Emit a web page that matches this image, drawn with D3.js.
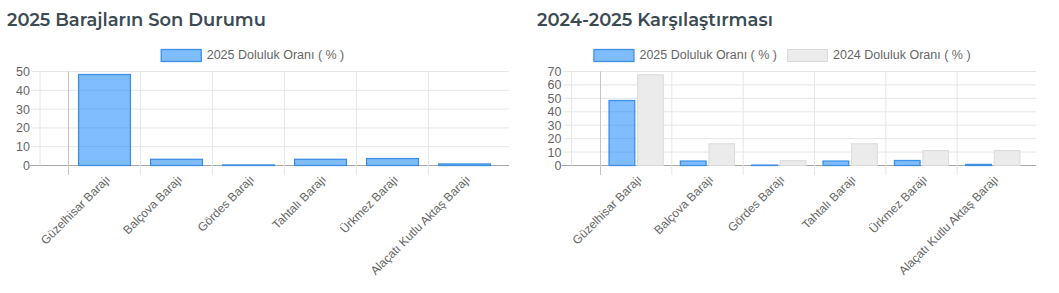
<!DOCTYPE html>
<html><head><meta charset="utf-8">
<script src="https://cdn.jsdelivr.net/npm/d3@7"></script>
<style>
body{margin:0;background:#fff;}
svg{display:block;}
</style></head>
<body>
<svg id="c" width="1059" height="293"></svg>
<script>
const categories = ["Güzelhisar Barajı","Balçova Barajı","Gördes Barajı","Tahtalı Barajı","Ürkmez Barajı","Alaçatı Kutlu Aktaş Barajı"];
const values2025 = [48.4, 3.3, 0.3, 3.3, 3.7, 0.8];
const values2024 = [67.6, 16.2, 3.6, 16.2, 11.1, 11.1];
const seriesNames = ["2025 Doluluk Oranı ( % )", "2024 Doluluk Oranı ( % )"];
const titles = ["2025 Barajların Son Durumu", "2024-2025 Karşılaştırması"];
const leftTicks = [0,10,20,30,40,50];
const rightTicks = [0,10,20,30,40,50,60,70];

const svg = d3.select("#c");
const FONT = "'Liberation Sans', Arial, sans-serif";
const fills = ["rgba(0,123,255,0.5)", "#ebebeb"];
const strokes = ["#3f8fe3", "#dadada"];

function title(txt, x, target){
  const t = svg.append("text").attr("x", x).attr("y", 26)
    .attr("font-family", "Montserrat, 'Open Sans', sans-serif").attr("font-weight", 600)
    .attr("font-size", 19).attr("fill", "#3b4a53").text(txt);
  const w = t.node().getComputedTextLength();
  t.attr("font-size", 19 * target / w);
}
title(titles[0], 7, 259);
title(titles[1], 537, 236);

function chart(opts){
  const {x0, x1, bandStart, bandEnd, ymax, ticks, series, legendCenter} = opts;
  const g = svg.append("g");
  const y = d3.scaleLinear().domain([0, ymax]).range([165.5, 71.5]);
  const x = d3.scaleBand().domain(categories).range([bandStart, bandEnd]).paddingInner(0).paddingOuter(0);

  ticks.forEach(t => {
    g.append("line").attr("x1", t===0 ? x0-10 : x0-8).attr("x2", x1)
      .attr("y1", y(t)).attr("y2", y(t))
      .attr("stroke", t===0 ? "#a8a8a8" : "#e6e6e6").attr("stroke-width", 1);
  });
  g.append("line").attr("x1", x0).attr("x2", x0).attr("y1", y(ymax)).attr("y2", y(0))
    .attr("stroke", "#e6e6e6");
  categories.forEach((c, i) => {
    g.append("line").attr("x1", x(c)).attr("x2", x(c))
      .attr("y1", y(ymax)).attr("y2", 175)
      .attr("stroke", i===0 ? "#c4c4c4" : "#e6e6e6");
  });
  const yAxis = d3.axisLeft(y).tickValues(ticks).tickSize(0).tickPadding(0);
  const ya = g.append("g").attr("transform", `translate(${x0-10},0)`).call(yAxis);
  ya.select(".domain").remove();
  ya.selectAll("text").attr("font-family", FONT).attr("font-size", 12.5).attr("fill", "#666");

  const n = series.length;
  const bw = x.bandwidth();
  const groupW = bw * 0.8;
  const slot = groupW / n;
  series.forEach((vals, si) => {
    g.selectAll(null).data(vals).enter().append("rect")
      .attr("x", (d, i) => x(categories[i]) + bw*0.1 + slot*si + slot*0.05)
      .attr("width", slot*0.9)
      .attr("y", d => y(d))
      .attr("height", d => y(0) - y(d))
      .attr("fill", fills[si]).attr("stroke", strokes[si]).attr("stroke-width", si===0 ? 1.3 : 1);
  });

  categories.forEach(c => {
    g.append("text")
      .attr("transform", `translate(${x(c) + bw/2 + 4},${178}) rotate(-45)`)
      .attr("text-anchor", "end").attr("dominant-baseline", "middle")
      .attr("font-family", FONT).attr("font-size", 12).attr("fill", "#666")
      .text(c);
  });

  const lg = g.append("g");
  let cursor = 0;
  series.forEach((s, si) => {
    const it = lg.append("g").attr("transform", `translate(${cursor},0)`);
    it.append("rect").attr("x", 0.5).attr("y", 49.5).attr("width", 40).attr("height", 12)
      .attr("fill", fills[si]).attr("stroke", strokes[si]).attr("stroke-width", si===0 ? 1.3 : 1);
    const t = it.append("text").attr("x", 46).attr("y", 55.5).attr("dominant-baseline", "middle")
      .attr("font-family", FONT).attr("font-size", 12.5).attr("fill", "#666").text(seriesNames[si]);
    cursor += 46 + t.node().getComputedTextLength() + 10;
  });
  const total = cursor - 10;
  lg.attr("transform", `translate(${legendCenter - total/2},0)`);
}

chart({x0: 40, x1: 509, bandStart: 68.5, bandEnd: 500.5, ymax: 50, ticks: leftTicks,
  series: [values2025], legendCenter: 252.5});
chart({x0: 571.5, x1: 1036, bandStart: 600.5, bandEnd: 1028.5, ymax: 70, ticks: rightTicks,
  series: [values2025, values2024], legendCenter: 782});
</script>
</body></html>
